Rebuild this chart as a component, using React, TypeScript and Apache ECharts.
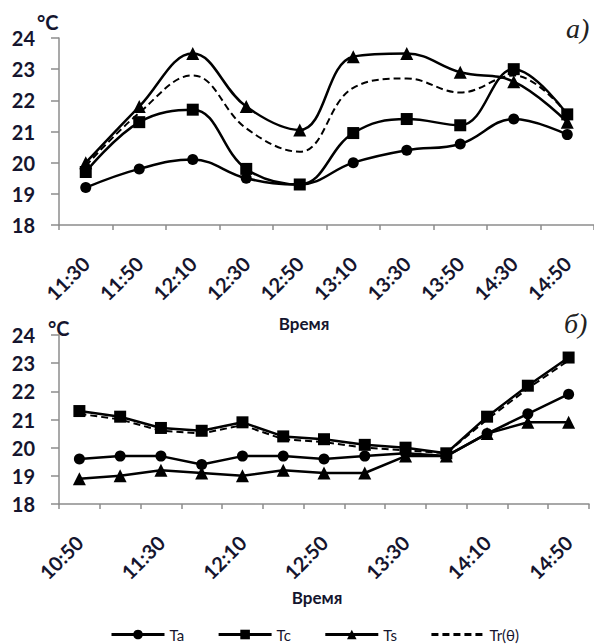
import React, { useEffect, useRef } from "react";
import * as echarts from "echarts";

const timesTop = ["11:30", "11:50", "12:10", "12:30", "12:50", "13:10", "13:30", "13:50", "14:30", "14:50"];
const taTop = [19.2, 19.8, 20.1, 19.5, 19.3, 20.0, 20.4, 20.6, 21.4, 20.9];
const tcTop = [19.7, 21.3, 21.7, 19.8, 19.3, 20.95, 21.4, 21.2, 23.0, 21.55];
const tsTop = [20.0, 21.8, 23.5, 21.8, 21.05, 23.4, 23.5, 22.9, 22.6, 21.3];
const trTop = [19.9, 21.6, 22.8, 21.1, 20.35, 22.4, 22.7, 22.25, 22.8, 21.55];

const timesBot = ["10:50", "11:10", "11:30", "11:50", "12:10", "12:30", "12:50", "13:10", "13:30", "13:50", "14:10", "14:30", "14:50"];
const taBot = [19.6, 19.7, 19.7, 19.4, 19.7, 19.7, 19.6, 19.7, 19.8, 19.7, 20.5, 21.2, 21.9];
const tcBot = [21.3, 21.1, 20.7, 20.6, 20.9, 20.4, 20.3, 20.1, 20.0, 19.8, 21.1, 22.2, 23.2];
const tsBot = [18.9, 19.0, 19.2, 19.1, 19.0, 19.2, 19.1, 19.1, 19.7, 19.7, 20.5, 20.9, 20.9];
const trBot = [21.2, 21.0, 20.6, 20.5, 20.8, 20.3, 20.2, 20.0, 19.9, 19.8, 21.0, 22.1, 23.1];

const yMin = 18;
const yMax = 24;
const yStep = 1;
const seriesNames = ["Ta", "Tc", "Ts", "Tr(θ)"];
const axisTitle = "Время";
const unitLabel = "°C";

const FONT = "Lato, 'Noto Sans', sans-serif";
const TXT = "#15152e";
const AXIS = "#8c8c8c";

export default function App() {
  const ref = useRef<HTMLDivElement>(null);
  useEffect(() => {
    if (!ref.current) return;
    const chart = echarts.init(ref.current, null, { renderer: "svg" });

    const yAxisBase = (gridIndex: number) => ({
      type: "value",
      gridIndex,
      min: yMin,
      max: yMax,
      interval: yStep,
      splitLine: { show: false },
      axisLine: { show: true, lineStyle: { color: AXIS, width: 1.5 } },
      axisTick: { show: true, length: 8, lineStyle: { color: AXIS, width: 1.5 } },
      axisLabel: { color: TXT, fontSize: 20, fontWeight: "bold", fontFamily: FONT, margin: 24 },
    });
    const xAxisBase = (gridIndex: number, data: string[], labelInterval: number, fs: number, margin: number) => ({
      type: "category",
      gridIndex,
      data,
      boundaryGap: true,
      axisLine: { show: true, lineStyle: { color: AXIS, width: 1.5 } },
      axisTick: { show: true, length: 5, interval: 0, lineStyle: { color: AXIS, width: 1.5 } },
      axisLabel: {
        color: TXT,
        fontSize: fs,
        fontWeight: "bold",
        fontFamily: FONT,
        rotate: 45,
        margin,
        interval: labelInterval,
      },
    });

    const symbols = ["circle", "rect", "triangle", "none"];
    const sizes = [11, 12, 13, 0];
    const mk = (name: string, idx: number, data: number[], axis: number, smooth: boolean | number) => ({
      name,
      type: "line",
      xAxisIndex: axis,
      yAxisIndex: axis,
      data,
      smooth,
      symbol: symbols[idx],
      symbolSize: sizes[idx],
      showSymbol: idx !== 3,
      itemStyle: { color: "#000" },
      lineStyle: idx === 3 ? { color: "#000", width: 2, type: [7, 4] } : { color: "#000", width: 2.5 },
      z: idx === 3 ? 1 : 2,
    });

    const topSets = [taTop, tcTop, tsTop, trTop];
    const botSets = [taBot, tcBot, tsBot, trBot];
    const series: any[] = [];
    seriesNames.forEach((n, i) => series.push(mk(n, i, topSets[i], 0, 0.4)));
    seriesNames.forEach((n, i) => series.push(mk(n, i, botSets[i], 1, false)));

    chart.setOption({
      animation: false,
      backgroundColor: "#fff",
      grid: [
        { left: 59, right: -4, top: 38, height: 187 },
        { left: 59, right: 5, top: 335, height: 169 },
      ],
      xAxis: [xAxisBase(0, timesTop, 0, 20, 35), xAxisBase(1, timesBot, 1, 20, 35)],
      yAxis: [yAxisBase(0), yAxisBase(1)],
      legend: {
        data: [
          { name: "Ta" },
          { name: "Tc" },
          { name: "Ts" },
          { name: "Tr(θ)", itemStyle: { color: "transparent", borderWidth: 0, opacity: 0 } },
        ],
        left: 105,
        top: 622,
        itemWidth: 53,
        itemHeight: 12,
        itemGap: 33,
        lineStyle: { width: 3 },
        textStyle: { color: TXT, fontSize: 15, fontFamily: FONT },
      },
      graphic: [
        { type: "text", left: 37, top: 12, style: { text: unitLabel, font: `bold 20px ${FONT}`, fill: TXT } },
        { type: "text", left: 48, top: 318, style: { text: unitLabel, font: `bold 20px ${FONT}`, fill: TXT } },
        { type: "text", x: 304, y: 323, style: { text: axisTitle, font: `bold 17px ${FONT}`, fill: TXT, align: "center", verticalAlign: "middle" } },
        { type: "text", x: 317, y: 597, style: { text: axisTitle, font: `bold 17px ${FONT}`, fill: TXT, align: "center", verticalAlign: "middle" } },
        { type: "text", x: 566, y: 28, style: { text: "а)", font: `italic 28px 'Liberation Serif', 'DejaVu Serif', serif`, fill: "#222", verticalAlign: "middle" } },
        { type: "text", x: 564, y: 323, style: { text: "б)", font: `italic 28px 'Liberation Serif', 'DejaVu Serif', serif`, fill: "#222", verticalAlign: "middle" } },
      ],
      series,
    });
    return () => chart.dispose();
  }, []);
  return <div ref={ref} style={{ position: "fixed", left: 0, top: 0, width: 594, height: 644 }} />;
}
